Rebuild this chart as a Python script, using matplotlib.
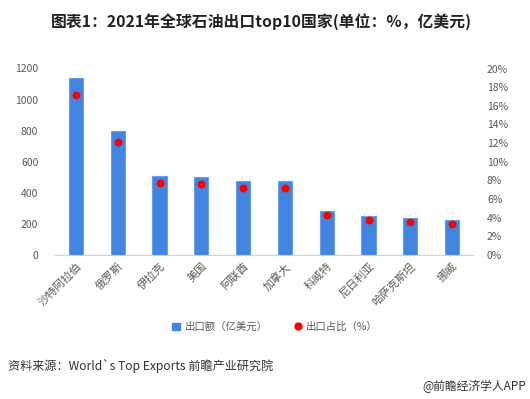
import matplotlib
matplotlib.use("Agg")
import matplotlib.pyplot as plt
from matplotlib.ticker import FuncFormatter
from matplotlib.lines import Line2D
from matplotlib.patches import Patch

plt.rcParams['font.family'] = ['Noto Sans CJK SC', 'DejaVu Sans']

countries = ["沙特阿拉伯", "俄罗斯", "伊拉克", "美国", "阿联酋", "加拿大", "科威特", "尼日利亚", "哈萨克斯坦", "挪威"]
export_value = [1137, 798, 508, 502, 476, 476, 283, 251, 238, 225]
export_share = [17.2, 12.1, 7.7, 7.6, 7.2, 7.2, 4.3, 3.8, 3.55, 3.37]
left_ticks = [0, 200, 400, 600, 800, 1000, 1200]
right_ticks = [0, 2, 4, 6, 8, 10, 12, 14, 16, 18, 20]

W, H = 530, 399
fig = plt.figure(figsize=(W/100, H/100), dpi=100)
ax = fig.add_axes([55/W, 1-255/H, (473-55)/W, (255-68.5)/H])
ax2 = ax.twinx()

x = list(range(len(countries)))
ax.bar(x, export_value, width=0.34, color="#4285e0", edgecolor="#6a9fe8", linewidth=0.8, zorder=2)
ax2.scatter(x, export_share, color="#ff0000", s=22, zorder=3)

ax.set_xlim(-0.5, len(countries)-0.5)
ax.set_ylim(0, 1200)
ax2.set_ylim(0, 20)
ax.set_yticks(left_ticks)
ax2.set_yticks(right_ticks)
ax2.yaxis.set_major_formatter(FuncFormatter(lambda v, p: f"{int(v)}%"))

for a in (ax, ax2):
    for s in a.spines.values():
        s.set_visible(False)
    a.tick_params(length=0, colors="#595959", labelsize=7.5)
ax.spines['bottom'].set_visible(True)
ax.spines['bottom'].set_color("#d0d0d0")
ax.tick_params(axis='y', pad=12)
ax2.tick_params(axis='y', pad=10)

ax.set_xticks(x)
ax.set_xticklabels(countries, rotation=45, ha='right', rotation_mode='anchor', fontsize=8, color="#595959")
ax.tick_params(axis='x', pad=4)

ax2.set_zorder(ax.get_zorder()+1)
ax2.patch.set_visible(False)

fig.text(261/W, 1-22/H, "图表1：2021年全球石油出口top10国家(单位：%，亿美元)", ha='center', va='center',
         fontsize=11.4, fontweight='bold', color="#222222")

handles = [Patch(facecolor="#4285e0", edgecolor="#4285e0"),
           Line2D([], [], marker='o', color='none', markerfacecolor="#ff0000", markeredgecolor="#ff0000", markersize=5)]
fig.legend(handles, ["出口额（亿美元）", "出口占比（%）"], loc='center', bbox_to_anchor=(275/W, 1-327/H),
           ncol=2, frameon=False, fontsize=7.5, labelcolor="#595959", handlelength=0.8, handleheight=0.8,
           handletextpad=0.4, columnspacing=2.5)

fig.text(8/W, 1-366/H, "资料来源：World`s Top Exports 前瞻产业研究院", ha='left', va='center', fontsize=8.7, color="#333333")
fig.text(526/W, 1-386/H, "@前瞻经济学人APP", ha='right', va='center', fontsize=8.5, color="#333333")

fig.savefig("out.png", dpi=100)
